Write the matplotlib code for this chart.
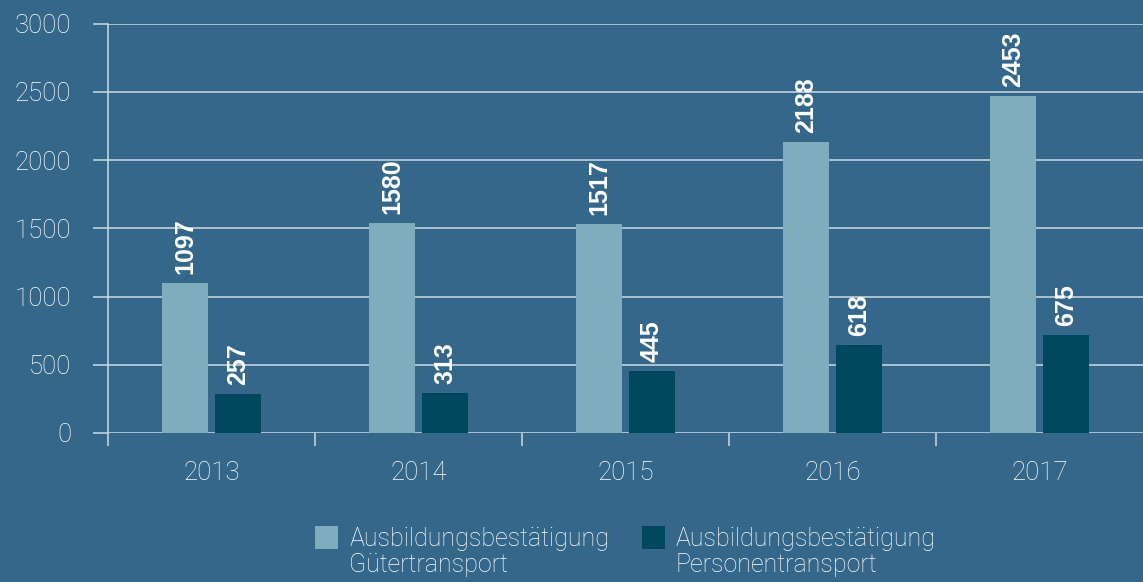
import matplotlib
matplotlib.use("Agg")
import matplotlib.pyplot as plt
from matplotlib.patches import Rectangle
from matplotlib.legend_handler import HandlerPatch
from matplotlib.font_manager import FontProperties
import numpy as np

# values
years = ["2013", "2014", "2015", "2016", "2017"]
gueter = [1100, 1540, 1533, 2134, 2472]          # bar heights as drawn
personen = [286, 293, 455, 645, 719]
gueter_labels = ["1097", "1580", "1517", "2188", "2453"]   # printed values
personen_labels = ["257", "313", "445", "618", "675"]
series_names = ["Ausbildungsbestätigung\nGütertransport",
                "Ausbildungsbestätigung\nPersonentransport"]

BG = "#346789"
LIGHT = "#7fadbd"
DARK = "#00485d"
GRID = "#cfdbe3"
TXT = "white"

tick_fp = FontProperties(family="Roboto", weight="light", size=18.5)
legend_fp = FontProperties(family="Roboto", weight="light", size=18)
bold_fp = FontProperties(family="Liberation Sans", weight="bold", size=18)


class TopSquare(HandlerPatch):
    # square aligned with the first line of a two-line label
    def create_artists(self, legend, orig_handle, xdescent, ydescent,
                       width, height, fontsize, trans):
        side = width
        y0 = -ydescent + height / 2 - side / 2 + 0.62 * fontsize
        p = Rectangle((-xdescent, y0), side, side,
                      facecolor=orig_handle.get_facecolor(), edgecolor="none")
        p.set_transform(trans)
        return [p]


fig = plt.figure(figsize=(11.43, 5.82), dpi=100, facecolor=BG)
ax = fig.add_axes([108 / 1143, 1 - 433 / 582, 1 - 108 / 1143, (433 - 23.7) / 582])
ax.set_facecolor(BG)

x = np.arange(len(years))
w = 0.222
off = 0.128
b1 = ax.bar(x - off, gueter, w, color=LIGHT, zorder=3)
b2 = ax.bar(x + off, personen, w, color=DARK, zorder=3)

for bars, labels in ((b1, gueter_labels), (b2, personen_labels)):
    for rect, txt in zip(bars, labels):
        ax.annotate(txt, (rect.get_x() + rect.get_width() / 2, rect.get_height()),
                    xytext=(0, 6.5), textcoords="offset points",
                    rotation=90, ha="center", va="bottom",
                    color=TXT, fontproperties=bold_fp, zorder=4)

ax.set_xlim(-0.5, 4.5)
ax.set_ylim(0, 3000)
ax.set_yticks(range(0, 3001, 500))
ax.yaxis.grid(True, color=GRID, linewidth=1.1, zorder=1)
ax.set_axisbelow(True)

for s in ("top", "right", "bottom"):
    ax.spines[s].set_visible(False)
ax.spines["left"].set_color(GRID)
ax.spines["left"].set_linewidth(1.1)

ax.set_xticks(x)
ax.set_xticklabels(years)
ax.set_xticks(np.arange(-0.5, 4.0, 1.0), minor=True)
ax.tick_params(axis="x", which="major", length=0, pad=20.5, labelcolor=TXT)
ax.tick_params(axis="x", which="minor", length=9.5, width=1.1, color=GRID)
ax.tick_params(axis="y", length=11, width=1.1, color=GRID, pad=15.5, labelcolor=TXT)
for lab in ax.get_xticklabels() + ax.get_yticklabels():
    lab.set_fontproperties(tick_fp)

handles = [b1.patches[0], b2.patches[0]]
leg = fig.legend(handles, series_names, loc="upper center",
                 bbox_to_anchor=((108 + 1143) / 2 / 1143, 1 - 527 / 582),
                 ncol=2, frameon=False, prop=legend_fp,
                 handlelength=0.92, handletextpad=0.45, columnspacing=1.3,
                 borderaxespad=0, borderpad=0,
                 handler_map={Rectangle: TopSquare()})
for t in leg.get_texts():
    t.set_color(TXT)
    t.set_linespacing(1.08)

fig.savefig("out.png", dpi=100, facecolor=BG)
